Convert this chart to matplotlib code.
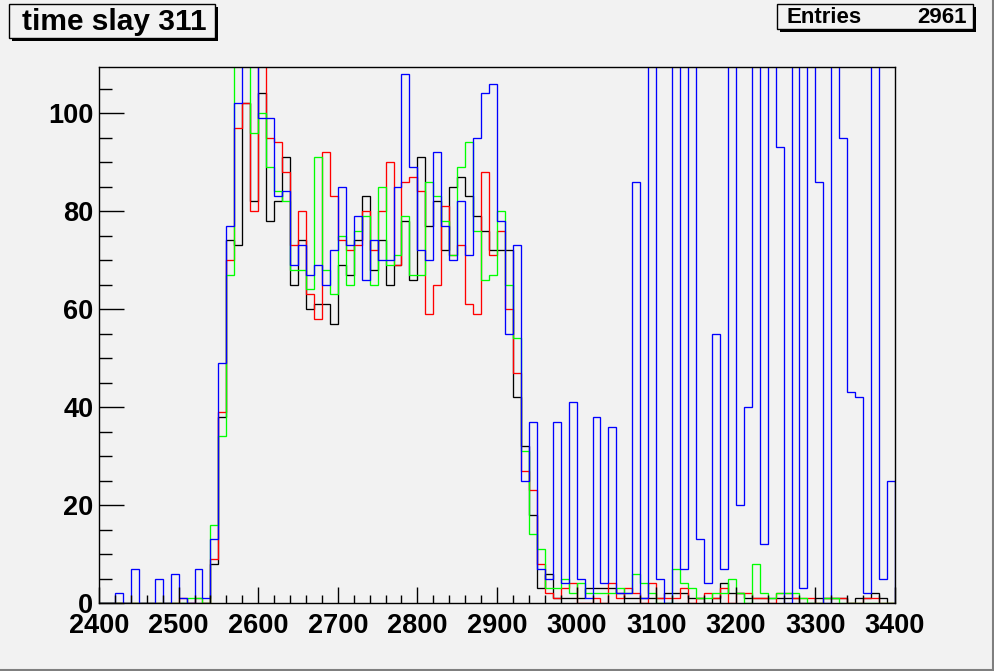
import matplotlib
matplotlib.use('Agg')
import matplotlib.pyplot as plt
from matplotlib.patches import Rectangle
from matplotlib.ticker import MultipleLocator
import numpy as np

# bin edges: 100 bins of width 10 between 2400 and 3400
edges = np.arange(2400, 3401, 10)

# bin contents (130 = clipped above the frame)
black = [0, 0, 0, 0, 0, 0, 0, 0, 0, 0, 0, 0, 0, 0,
         8, 38, 74, 73, 102, 82, 104, 78, 82, 91,
         65, 74, 60, 61, 61, 57, 69, 67, 74, 83,
         68, 74, 65, 69, 78, 66, 91, 77, 82, 72,
         85, 87, 83, 79, 76, 72, 72, 72, 42, 32,
         18, 3, 6, 1,
         1, 1, 1, 3, 3, 3, 3, 2, 1, 1,
         1, 1, 1, 2, 2, 2, 1, 1, 0, 1,
         4, 2, 2, 1, 1, 1, 1, 1, 1, 1,
         0, 0, 1, 1, 1, 1, 0, 1, 1, 2,
         1, 0]
red = [0, 0, 0, 0, 0, 0, 0, 0, 0, 0, 1, 0, 1, 0,
       9, 39, 70, 97, 102, 80, 130, 95, 94, 88,
       73, 80, 63, 58, 92, 83, 74, 72, 73, 80,
       72, 80, 90, 69, 86, 87, 84, 59, 65, 81,
       71, 73, 61, 59, 88, 71, 76, 60, 47, 27,
       23, 8, 2, 1,
       3, 4, 0, 0, 1, 0, 4, 1, 3, 2,
       0, 4, 1, 1, 1, 3, 0, 1, 2, 1,
       3, 0, 2, 2, 1, 1, 0, 2, 2, 1,
       1, 1, 0, 1, 1, 1, 0, 0, 1, 1,
       0, 0]
green = [0, 0, 0, 0, 0, 0, 0, 0, 0, 0, 0, 1, 1, 0,
         16, 34, 67, 130, 130, 96, 100, 89, 84, 82,
         68, 68, 64, 91, 68, 63, 75, 65, 76, 79,
         65, 85, 69, 71, 79, 67, 67, 86, 83, 78,
         71, 89, 94, 76, 66, 67, 80, 65, 54, 31,
         14, 11, 3, 3,
         5, 2, 4, 2, 2, 2, 2, 3, 2, 6,
         4, 2, 0, 0, 7, 4, 3, 1, 1, 2,
         2, 5, 2, 0, 8, 2, 1, 2, 2, 2,
         1, 0, 0, 1, 1, 0, 0, 0, 0, 0,
         0, 0]
blue = [0, 0, 2, 0, 7, 0, 0, 5, 0, 6, 1, 0, 7, 1,
        13, 49, 77, 102, 130, 130, 99, 99, 83, 84,
        69, 73, 67, 69, 65, 72, 85, 73, 79, 66,
        74, 70, 70, 85, 108, 89, 72, 70, 92, 77,
        70, 82, 71, 95, 104, 106, 78, 55, 73, 25,
        37, 7, 5, 37,
        4, 41, 5, 1, 38, 4, 36, 2, 2, 86,
        1, 130, 5, 0, 130, 7, 130, 13, 4, 55,
        7, 130, 20, 40, 130, 12, 130, 93, 0, 130,
        3, 130, 86, 0, 130, 95, 43, 42, 2, 130,
        5, 25]

title_text = 'time slay 311'
entries = 2961

W, H = 995, 671
BG = '#f2f2f2'
FONT = ['Liberation Sans', 'DejaVu Sans']


def fx(x):
    return x / W


def fy(y):
    return 1 - y / H


fig = plt.figure(figsize=(W / 100, H / 100), dpi=100, facecolor=BG)
ax = fig.add_axes([fx(99), fy(603), (895 - 99) / W, (603 - 67) / H])
ax.set_facecolor(BG)

# same drawing order as the original: black first, blue last
for vals, col in [(black, 'black'), (red, '#ff0000'), (green, '#00ff00'), (blue, '#0000ff')]:
    ax.stairs(vals, edges, color=col, linewidth=0.95)

ax.set_xlim(2400, 3400)
ax.set_ylim(0, 109.4)

ax.set_xticks(np.arange(2400, 3401, 100))
ax.xaxis.set_minor_locator(MultipleLocator(20))
ax.set_yticks(np.arange(0, 101, 20))
ax.yaxis.set_minor_locator(MultipleLocator(5))

ax.tick_params(axis='x', which='major', direction='in', length=11.5, width=1, pad=7)
ax.tick_params(axis='x', which='minor', direction='in', length=5.8, width=1)
ax.tick_params(axis='y', which='major', direction='in', length=18, width=1, pad=4)
ax.tick_params(axis='y', which='minor', direction='in', length=9, width=1)
for lab in ax.get_xticklabels() + ax.get_yticklabels():
    lab.set_fontfamily(FONT)
    lab.set_fontweight('bold')
    lab.set_fontsize(19.5)
for sp in ax.spines.values():
    sp.set_linewidth(1)
    sp.set_color('black')


def shadow_box(x0, y0, x1, y1):
    # ROOT style pave: black shadow shifted right/down, then the box itself
    fig.add_artist(Rectangle((fx(x0 + 3), fy(y1 + 3)), (x1 - x0) / W, (y1 - y0) / H,
                             transform=fig.transFigure, facecolor='black',
                             edgecolor='black', linewidth=0))
    fig.add_artist(Rectangle((fx(x0), fy(y1)), (x1 - x0) / W, (y1 - y0) / H,
                             transform=fig.transFigure, facecolor=BG,
                             edgecolor='black', linewidth=1))


shadow_box(9, 4, 215, 38)
fig.text(fx(114), fy(22), title_text, ha='center', va='center',
         fontsize=21.5, fontweight='bold', family=FONT)

shadow_box(777, 4, 973, 29)
fig.text(fx(787), fy(17.5), 'Entries', ha='left', va='center',
         fontsize=16, fontweight='bold', family=FONT)
fig.text(fx(967), fy(17.5), str(entries), ha='right', va='center',
         fontsize=16, fontweight='bold', family=FONT)

# canvas bevel on the right and bottom
fig.add_artist(plt.Line2D([fx(993.5), fx(993.5)], [fy(1), fy(669.5)],
                          transform=fig.transFigure, color='#7f7f7f', linewidth=1.5))
fig.add_artist(plt.Line2D([fx(1), fx(993.5)], [fy(669.5), fy(669.5)],
                          transform=fig.transFigure, color='#7f7f7f', linewidth=1.5))

fig.savefig('out.png', dpi=100, facecolor=BG)
